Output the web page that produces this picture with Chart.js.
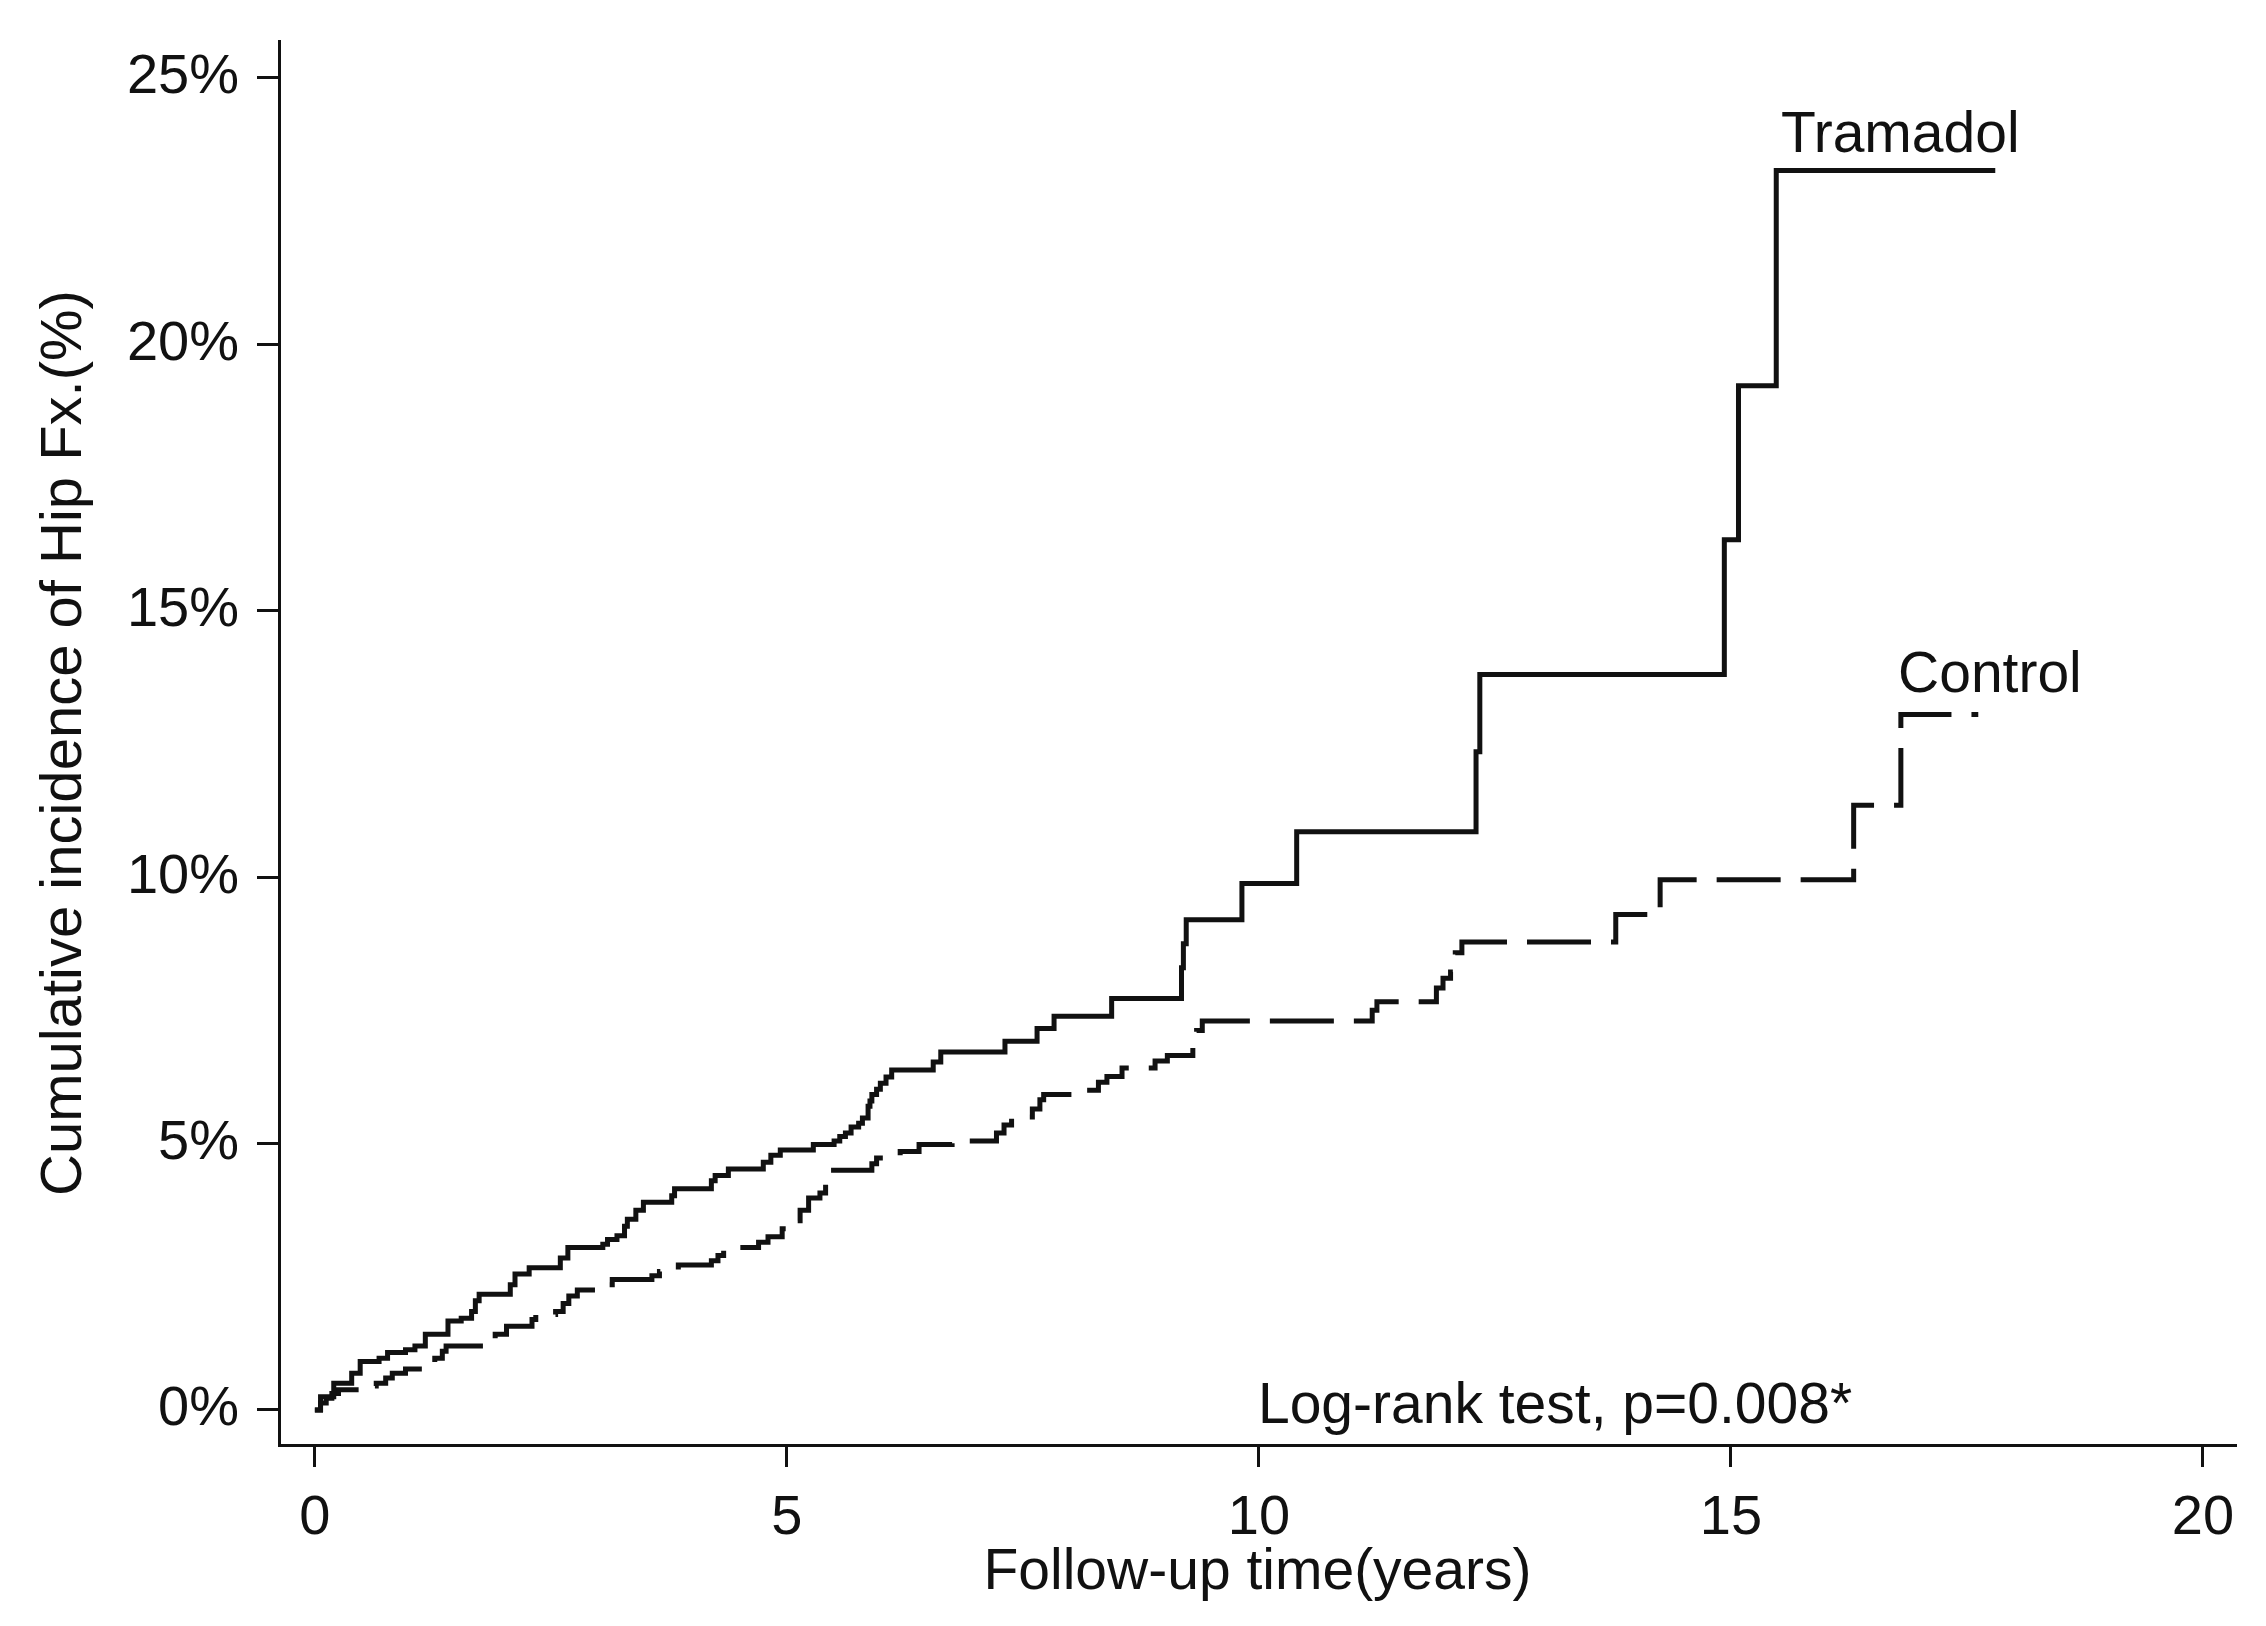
<!DOCTYPE html>
<html>
<head>
<meta charset="utf-8">
<script src="https://cdn.jsdelivr.net/npm/chart.js@4.4.1/dist/chart.umd.min.js"></script>
<style>
  html, body { margin: 0; padding: 0; background: #fff; }
  canvas { display: block; }
</style>
</head>
<body>
<canvas id="chartHipFx" width="2266" height="1626"></canvas>
<script>
// Kaplan-Meier style cumulative incidence
const tramadolTime = [0, 0.06, 0.2, 0.39, 0.48, 0.68, 0.77, 0.96, 1.06, 1.17, 1.41, 1.55, 1.66, 1.7, 1.74, 2.07, 2.12, 2.27,
    2.6, 2.68, 3.05, 3.1, 3.2, 3.28, 3.31, 3.4, 3.48, 3.78, 3.81, 4.2, 4.24, 4.38, 4.75, 4.83, 4.93, 5.28,
    5.5, 5.56, 5.62, 5.68, 5.76, 5.8, 5.86, 5.88, 5.9, 5.95, 5.99, 6.05, 6.11, 6.55, 6.63, 7.31, 7.65, 7.83,
    8.44, 9.18, 9.2, 9.23, 9.82, 10.4, 12.3, 12.34, 14.93, 15.08, 15.48, 17.8];
const tramadolInc = [0, 0.25, 0.5, 0.69, 0.91, 0.97, 1.08, 1.13, 1.2, 1.42, 1.67, 1.72, 1.85, 2.05, 2.17, 2.35, 2.55, 2.67,
    2.85, 3.05, 3.11, 3.2, 3.27, 3.45, 3.58, 3.75, 3.9, 4.02, 4.15, 4.3, 4.4, 4.52, 4.65, 4.78, 4.88, 4.98,
    5.05, 5.13, 5.2, 5.31, 5.38, 5.48, 5.7, 5.8, 5.92, 6.02, 6.13, 6.25, 6.38, 6.53, 6.72, 6.92, 7.16, 7.39,
    7.72, 8.3, 8.75, 9.2, 9.88, 10.85, 12.35, 13.8, 16.33, 19.22, 23.26, 23.26];

const controlTime = [0, 0.06, 0.12, 0.18, 0.25, 0.6, 0.65, 0.75, 0.82, 0.96, 1.2, 1.27, 1.35, 1.39, 1.8, 1.91, 2.03, 2.3,
    2.34, 2.55, 2.63, 2.69, 2.78, 2.98, 3.15, 3.57, 3.65, 3.85, 4.2, 4.27, 4.33, 4.7, 4.8, 4.95, 5.02, 5.14,
    5.23, 5.35, 5.41, 5.44, 5.9, 5.95, 6.2, 6.4, 6.75, 7.22, 7.3, 7.38, 7.6, 7.68, 7.72, 8.15, 8.3, 8.39,
    8.55, 8.9, 9.03, 9.3, 9.34, 9.4, 11.2, 11.25, 11.88, 11.95, 12.03, 12.08, 12.15, 13.78, 14.25, 16.3, 16.8, 17.62];
const controlInc = [0, 0.13, 0.22, 0.31, 0.38, 0.45, 0.5, 0.6, 0.69, 0.77, 0.87, 0.97, 1.1, 1.2, 1.3, 1.42, 1.57, 1.7,
    1.79, 1.85, 2.0, 2.14, 2.25, 2.35, 2.45, 2.52, 2.6, 2.72, 2.8, 2.9, 3.05, 3.15, 3.25, 3.4, 3.55, 3.75,
    3.98, 4.07, 4.3, 4.5, 4.62, 4.73, 4.85, 4.98, 5.05, 5.2, 5.35, 5.5, 5.65, 5.82, 5.92, 6.0, 6.15, 6.26,
    6.42, 6.55, 6.65, 6.95, 7.12, 7.3, 7.5, 7.66, 7.92, 8.1, 8.22, 8.58, 8.78, 9.3, 9.95, 11.35, 13.05, 13.05];

const xTicks = [0, 5, 10, 15, 20];
const yTicks = [0, 5, 10, 15, 20, 25];

const FONT = "'Liberation Sans', Arial, sans-serif";
const INK = "#111";

// text placed on the plot (data coordinates of the left/baseline point)
const notas = [
    { text: "Tramadol", x: 15.53, y: 23.6 },
    { text: "Control", x: 16.77, y: 13.48 },
    { text: "Log-rank test, p=0.008*", x: 9.99, y: -0.24 }
];

const textosPlugin = {
    id: "textos",
    afterDatasetsDraw(chart) {
        const { ctx, scales } = chart;
        ctx.save();
        ctx.fillStyle = INK;
        ctx.font = "57px " + FONT;
        ctx.textAlign = "left";
        ctx.textBaseline = "alphabetic";
        notas.forEach(n => {
            ctx.fillText(n.text, scales.x.getPixelForValue(n.x), scales.y.getPixelForValue(n.y));
        });
        ctx.restore();
    }
};

const toPoints = (xs, ys) => xs.map((x, i) => ({ x, y: ys[i] }));

const ctx = document.getElementById("chartHipFx").getContext("2d");
new Chart(ctx, {
    type: "line",
    data: {
        datasets: [{
            label: "Tramadol",
            data: toPoints(tramadolTime, tramadolInc),
            borderColor: INK,
            borderWidth: 5,
            pointRadius: 0,
            stepped: "before",
            fill: false
        }, {
            label: "Control",
            data: toPoints(controlTime, controlInc),
            borderColor: INK,
            borderWidth: 5,
            borderDash: [64, 20],
            pointRadius: 0,
            stepped: "before",
            fill: false
        }]
    },
    options: {
        responsive: false,
        devicePixelRatio: 1,
        animation: false,
        layout: { padding: { top: 41, right: 30, bottom: 19, left: 0 } },
        plugins: { legend: { display: false }, tooltip: { enabled: false } },
        scales: {
            x: {
                type: "linear",
                min: -0.38,
                max: 20.35,
                afterBuildTicks: s => { s.ticks = xTicks.map(v => ({ value: v })); },
                afterFit: s => { s.height = 162; s.paddingLeft = 0; s.paddingRight = 0; },
                border: { display: true, color: INK, width: 3 },
                grid: { drawOnChartArea: false, drawTicks: true, tickLength: 22, tickWidth: 3, tickColor: INK },
                ticks: { color: INK, padding: 18, font: { family: FONT, size: 56 }, maxRotation: 0 },
                title: { display: true, text: "Follow-up time(years)", color: INK, font: { family: FONT, size: 57 }, padding: 0 }
            },
            y: {
                min: -0.657,
                max: 25.69,
                afterBuildTicks: s => { s.ticks = yTicks.map(v => ({ value: v })); },
                afterFit: s => { s.width = 279; s.paddingTop = 0; s.paddingBottom = 0; },
                border: { display: true, color: INK, width: 3 },
                grid: { drawOnChartArea: false, drawTicks: true, tickLength: 22, tickWidth: 3, tickColor: INK },
                ticks: { color: INK, padding: 18, font: { family: FONT, size: 56 }, callback: v => v + "%" },
                title: { display: true, text: "Cumulative incidence of Hip Fx.(%)", color: INK, font: { family: FONT, size: 58 }, padding: { top: 30, bottom: 0 } }
            }
        }
    },
    plugins: [textosPlugin]
});
</script>
</body>
</html>
